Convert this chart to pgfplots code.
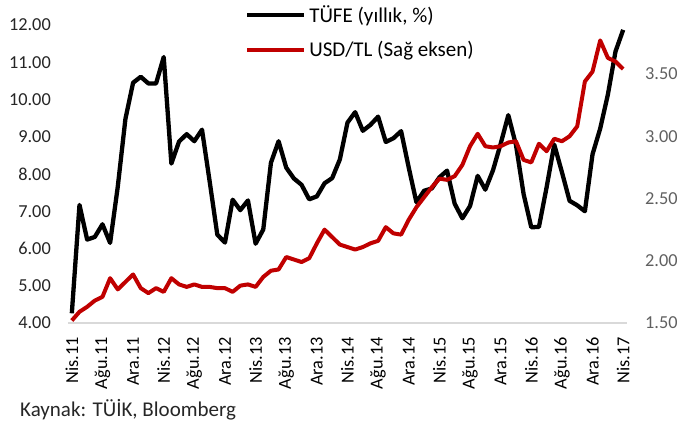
\documentclass[border=0pt]{standalone}
\usepackage{pgfplots}
\pgfplotsset{compat=1.18}
\usepackage{pgfplotstable}
\usepackage{fontspec}
\setmainfont{Carlito}
\definecolor{tufe}{RGB}{0,0,0}
\definecolor{usd}{RGB}{192,0,0}
\definecolor{axgray}{RGB}{217,217,217}
\definecolor{lbldark}{RGB}{38,38,38}
\definecolor{lblgray}{RGB}{96,96,96}
\pgfplotstableread{
x tufe usd
0 4.26 1.52
1 7.17 1.59
2 6.24 1.63
3 6.31 1.68
4 6.65 1.71
5 6.15 1.86
6 7.66 1.77
7 9.48 1.83
8 10.45 1.89
9 10.61 1.78
10 10.43 1.74
11 10.43 1.78
12 11.14 1.75
13 8.28 1.86
14 8.87 1.81
15 9.07 1.79
16 8.88 1.81
17 9.19 1.79
18 7.80 1.79
19 6.37 1.78
20 6.16 1.78
21 7.31 1.75
22 7.03 1.80
23 7.29 1.81
24 6.13 1.79
25 6.51 1.87
26 8.30 1.92
27 8.88 1.93
28 8.17 2.03
29 7.88 2.01
30 7.71 1.99
31 7.32 2.02
32 7.40 2.14
33 7.75 2.25
34 7.89 2.19
35 8.39 2.13
36 9.38 2.11
37 9.66 2.09
38 9.16 2.11
39 9.32 2.14
40 9.54 2.16
41 8.86 2.27
42 8.96 2.22
43 9.15 2.21
44 8.17 2.33
45 7.24 2.43
46 7.55 2.51
47 7.61 2.59
48 7.91 2.66
49 8.09 2.65
50 7.20 2.68
51 6.81 2.77
52 7.14 2.92
53 7.95 3.02
54 7.58 2.92
55 8.10 2.91
56 8.81 2.92
57 9.58 2.95
58 8.78 2.96
59 7.46 2.81
60 6.57 2.79
61 6.58 2.94
62 7.64 2.88
63 8.79 2.98
64 8.05 2.96
65 7.28 3.00
66 7.16 3.08
67 7.00 3.44
68 8.53 3.52
69 9.22 3.77
70 10.13 3.63
71 11.29 3.60
72 11.87 3.54
}\datatable
\begin{document}
\begin{tikzpicture}
\useasboundingbox (-68pt,-100pt) rectangle (609pt,323pt);
\pgfplotsset{
  every axis/.append style={
    scale only axis, width=559pt, height=298pt,
    xmin=-0.5, xmax=72.5,
    font=\fontsize{18.3}{21}\selectfont,
    /pgf/number format/assume math mode=true,
    major tick length=0pt,
    clip=false,
  }
}
\begin{axis}[
  at={(0pt,0pt)}, anchor=south west,
  ymin=4, ymax=12,
  axis x line*=bottom, axis y line*=left,
  x axis line style={draw=axgray, line width=1.5pt},
  y axis line style={draw=none},
  ytick={4,5,...,12},
  yticklabel style={/pgf/number format/.cd, fixed, fixed zerofill, precision=2, /tikz/.cd, anchor=east, inner sep=0pt, xshift=-17pt, text=lbldark},
  xtick={0,4,...,72},
  xticklabels={Nis.11,Ağu.11,Ara.11,Nis.12,Ağu.12,Ara.12,Nis.13,Ağu.13,Ara.13,Nis.14,Ağu.14,Ara.14,Nis.15,Ağu.15,Ara.15,Nis.16,Ağu.16,Ara.16,Nis.17},
  xticklabel style={rotate=90, anchor=east, inner sep=0pt, text=black},
  xticklabel shift=14pt,
  legend style={draw=none, fill=none, at={(rel axis cs:0.3166,1.0638)}, anchor=north west, inner sep=0pt, outer sep=0pt, row sep=17pt, column sep=3pt, font=\fontsize{21}{24}\selectfont, nodes={inner sep=0pt, text=black}},
  legend cell align=left,
  legend image code/.code={\draw[#1] (0pt,0pt) -- (57pt,0pt);},
]
\addplot[color=tufe, line width=4.3pt, line join=round] table[x=x, y=tufe] {\datatable};
\addlegendentry{TÜFE (yıllık, \%)}
\addlegendimage{color=usd, line width=4pt}
\addlegendentry{USD/TL (Sağ eksen)}
\end{axis}
\begin{axis}[
  at={(0pt,0pt)}, anchor=south west,
  ymin=1.5, ymax=3.894,
  axis x line=none, axis y line*=right,
  y axis line style={draw=none},
  ytick={1.5,2,2.5,3,3.5},
  yticklabel style={/pgf/number format/.cd, fixed, fixed zerofill, precision=2, /tikz/.cd, anchor=west, inner sep=0pt, xshift=18pt, text=lblgray},
]
\addplot[color=usd, line width=4pt, line join=round] table[x=x, y=usd] {\datatable};
\end{axis}
\node[anchor=base west, inner sep=0pt, font=\fontsize{21}{24}\selectfont, text=lbldark] at (-48pt,-93pt) {Kaynak: TÜİK, Bloomberg};
\end{tikzpicture}
\end{document}
